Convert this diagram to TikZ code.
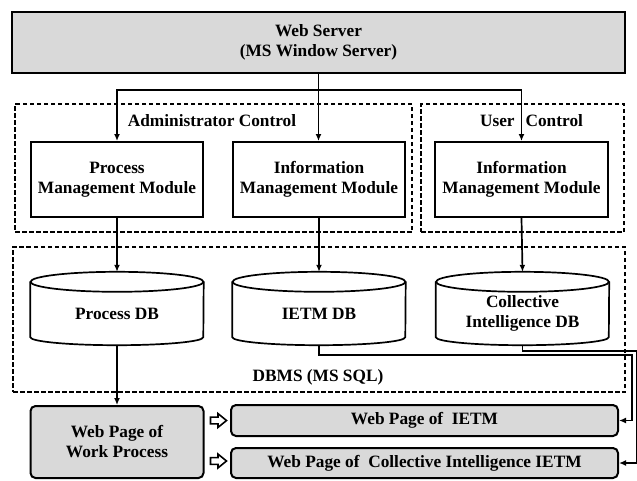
\documentclass[tikz,border=0pt]{standalone}
\usepackage{fontspec}
\setmainfont{Liberation Serif}
\usetikzlibrary{arrows.meta,calc}
\newcommand{\drawdb}[1]{%
  \draw[dbline] (#1.north west) -- ($(#1.south west)+(0,-8)$)
     arc[start angle=180,end angle=0,x radius=86.5,y radius=8] -- (#1.north east);
  \draw[dbline] (#1.north) ellipse [x radius=86.5, y radius=10];
}
\begin{document}
\begin{tikzpicture}[x=1pt,y=-1pt,
  every node/.style={font=\bfseries\fontsize{17.3}{20}\selectfont, align=center, inner sep=0pt},
  serverbox/.style={draw, line width=2pt, fill=gray!30, minimum width=613pt, minimum height=61pt},
  modbox/.style={draw, line width=2pt, fill=white, minimum width=172pt, minimum height=75pt},
  area/.style={draw, dash pattern=on 4.5pt off 2.5pt, line width=1.8pt},
  dbnode/.style={minimum width=173pt, minimum height=63pt},
  dbline/.style={line width=1.7pt},
  pagebox/.style={draw, line width=2pt, fill=gray!30, rounded corners=5pt},
  arr/.style={line width=1.7pt, -{Latex[length=7pt,width=6pt]}},
  trunk/.style={line width=1.9pt},
  hollow/.style={draw, line width=1.6pt, fill=white, line join=miter}
]
\useasboundingbox (0,0) rectangle (637,480);

% groups
\node[area, minimum width=397pt, minimum height=128pt] (adm) at (213.5,168) {};
\node[area, minimum width=203pt, minimum height=128pt] (usr) at (522.5,168) {};
\node[area, minimum width=612pt, minimum height=145pt] (dbms) at (319,319.5) {};

% server
\node[serverbox] (ws) at (318.5,42.5) {Web Server\\(MS Window Server)};

% labels
\node (admlbl) at (212,121) {Administrator Control};
\node (usrlbl) at (531.5,121) {User\hspace{11pt}Control};
\node (dbmslbl) at (318,377) {DBMS (MS SQL)};

% modules
\node[modbox] (pmm) at (117,179.5) {Process\\Management Module};
\node[modbox] (imm) at (319,179.5) {Information\\Management Module};
\node[modbox, minimum width=173pt] (uimm) at (521.5,179.5) {Information\\Management Module};

% databases
\node[dbnode] (pdb) at (117,313.5) {};
\node[dbnode] (idb) at (319,313.5) {};
\node[dbnode] (cdb) at (522.5,313.5) {};
\drawdb{pdb}
\drawdb{idb}
\drawdb{cdb}
\node (pdbt) at (pdb.center) {Process DB};
\node (idbt) at (idb.center) {IETM DB};
\node (cdbt) at (cdb.center) {Collective\\Intelligence DB};

% web pages
\node[pagebox, minimum width=173pt, minimum height=72pt] (wp) at (117,442) {\fontsize{17.3}{19}\selectfont Web Page of\\Work Process};
\node[pagebox, minimum width=387pt, minimum height=31pt] (pi) at (424.5,420.5) {Web Page of~ IETM};
\node[pagebox, minimum width=387pt, minimum height=30pt] (pc) at (424.5,463) {Web Page of~ Collective Intelligence IETM};

% server connectors
\coordinate (split) at ($(ws.south)+(0,16)$);
\draw[trunk] (ws.south) -- (split);
\draw[arr] (split) -| (pmm.north);
\draw[arr] (ws.south) -- (ws.south |- imm.north);
\draw[arr] (split) -| (uimm.north);

% module to db
\draw[arr] (pmm.south) -- ($(pdb.north)+(0,-10)$);
\draw[arr] (imm.south) -- ($(idb.north)+(0,-10)$);
\draw[arr] (uimm.south) -- ($(cdb.north)+(0,-10)$);

% db to pages
\draw[arr, line width=1.3pt] (pdb.south) -- (wp.north);
\coordinate (r1) at (632,355);
\coordinate (r2) at (637,351);
\draw[arr] (idb.south) -- (idb.south |- r1) -- (r1) |- (pi.east);
\draw[arr] (cdb.south) -- (cdb.south |- r2) -- (r2) |- (pc.east);

% hollow arrows
\coordinate (h1) at ($(wp.east |- pi.west)+(6,0)$);
\coordinate (h2) at ($(wp.east |- pc.west)+(6,-2)$);
\draw[hollow] (h1) ++(0,-3.4) -- ++(7.5,0) -- ++(0,-3.5) -- ++(8.5,6.9) -- ++(-8.5,6.9) -- ++(0,-3.5) -- ++(-7.5,0) -- cycle;
\draw[hollow] (h2) ++(0,-3.4) -- ++(7.5,0) -- ++(0,-3.5) -- ++(8.5,6.9) -- ++(-8.5,6.9) -- ++(0,-3.5) -- ++(-7.5,0) -- cycle;
\end{tikzpicture}
\end{document}
